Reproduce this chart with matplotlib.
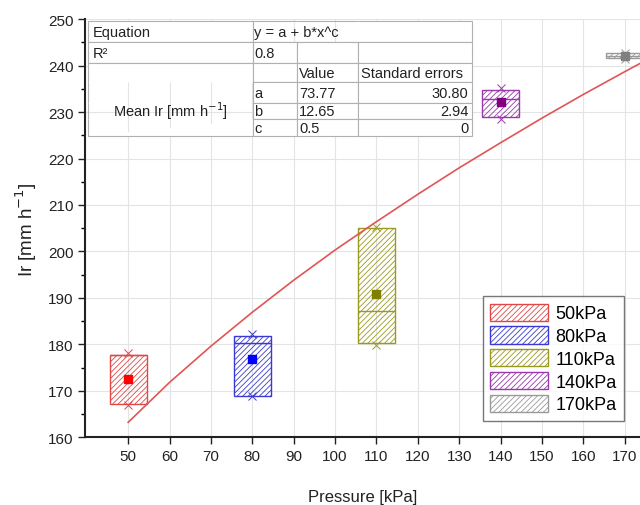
import matplotlib
matplotlib.use('Agg')
import matplotlib.pyplot as plt

plt.rcParams['font.family'] = ['Liberation Sans', 'DejaVu Sans']
plt.rcParams['hatch.linewidth'] = 0.6

# box statistics
pressures = [50, 80, 110, 140, 170]
labels = ['50kPa', '80kPa', '110kPa', '140kPa', '170kPa']
q1 = [167.1, 168.9, 180.2, 229.0, 241.6]
q3 = [177.7, 181.8, 205.1, 234.7, 242.7]
medians = [177.7, 180.2, 187.1, 232.8, 242.1]
means = [172.5, 176.9, 190.8, 232.1, 242.1]
mins = [166.9, 168.8, 179.9, 228.6, 241.5]
maxs = [178.1, 182.2, 205.3, 235.1, 242.8]

edge_colors = ['#e04848', '#3a3ad0', '#9a9a20', '#9a3aaa', '#9a9a9a']
mean_colors = ['#ff0000', '#0000ff', '#808000', '#800080', '#808080']

# fitted curve y = a + b*x^c
fit_x = [50, 60, 70, 80, 90, 100, 110, 120, 130, 140, 150, 160, 170, 175]
fit_y = [163.2, 171.8, 179.6, 186.9, 193.8, 200.3, 206.4, 212.3, 218.0,
         223.4, 228.7, 233.8, 238.7, 241.1]

fig = plt.figure(figsize=(6.4, 5.06), dpi=100)
ax = fig.add_axes([0.133, 0.134, 0.867, 0.826])

ax.grid(True, color='#e4e4e4', linewidth=0.8)
ax.set_axisbelow(True)

ax.plot(fit_x, fit_y, color='#e05555', linewidth=1.2, zorder=3)

for i in range(len(pressures)):
    x = pressures[i]
    c = edge_colors[i]
    ax.bar(x, q3[i] - q1[i], bottom=q1[i], width=9, fill=False, hatch='//////',
           edgecolor=c, linewidth=1.0, label=labels[i], zorder=2)
    ax.hlines(medians[i], x - 4.5, x + 4.5, color=c, linewidth=1.0, zorder=2)
    ax.plot([x, x], [mins[i], maxs[i]], linestyle='none', marker='x',
            markersize=6, color=c, markeredgewidth=0.7, zorder=4)
    ax.plot(x, means[i], marker='s', markersize=5.5, color=mean_colors[i],
            linestyle='none', zorder=5)

ax.set_xlim(39.6, 173.7)
ax.set_ylim(160, 250)
ax.set_xticks(range(50, 171, 10))
ax.set_yticks(range(160, 251, 10))
ax.set_yticks(range(165, 250, 10), minor=True)
ax.tick_params(axis='both', which='major', direction='out', length=5, width=1,
               labelsize=11, colors='#222222')
ax.tick_params(axis='y', which='minor', direction='out', length=3, width=1)

for s in ['top', 'right']:
    ax.spines[s].set_visible(False)
for s in ['left', 'bottom']:
    ax.spines[s].set_linewidth(1.5)
    ax.spines[s].set_color('#222222')

ax.set_xlabel('Pressure [kPa]', fontsize=12, labelpad=19, color='#222222')
ax.set_ylabel('Ir [mm h$^{-1}$]', fontsize=13.5, labelpad=6, color='#222222')

leg = ax.legend(loc='upper left', bbox_to_anchor=(0.717, 0.337), borderaxespad=0,
                fontsize=13, frameon=True, fancybox=False, edgecolor='#555555',
                handlelength=3.2, handleheight=1.1, labelspacing=0.22,
                handletextpad=0.4, borderpad=0.4)
leg.get_frame().set_linewidth(1.0)

# parameter table in the top-left corner
cells = [
    ['Equation', 'y = a + b*x^c', '', ''],
    ['R²', '0.8', '', ''],
    ['', '', 'Value', 'Standard errors'],
    ['', 'a', '73.77', '30.80'],
    ['', 'b', '12.65', '2.94'],
    ['', 'c', '0.5', '0'],
]
tab_left = (88 - 85) / 555
col_w = [(253 - 88) / 555, (297 - 253) / 555, (358 - 297) / 555, (472 - 358) / 555]
row_h = [21 / 418, 21 / 418, 19 / 418, 21 / 418, 16 / 418, 17 / 418]
tab = ax.table(cellText=cells, colWidths=col_w, cellLoc='left',
               bbox=[tab_left, 1 - sum(row_h) - 2 / 418, sum(col_w), sum(row_h)],
               zorder=6)
tab.auto_set_font_size(False)
for (r, c), cell in tab.get_celld().items():
    cell.set_height(row_h[r])
    cell.set_edgecolor('#b0b0b0')
    cell.set_linewidth(0.8)
    cell.set_facecolor('white')
    cell.get_text().set_fontsize(10.5)
    cell.get_text().set_color('#222222')
    cell.PAD = 0.03
    if c == 3 and r >= 3:
        cell.get_text().set_horizontalalignment('right')
    if r >= 2 and c == 0:
        cell.visible_edges = 'LR'
        if r == 2:
            cell.visible_edges = 'LRT'
        if r == 5:
            cell.visible_edges = 'LRB'
    if r == 0 and c >= 1:
        cell.visible_edges = 'TB' + ('L' if c == 1 else '') + ('R' if c == 3 else '')
# merged "Mean Ir" label spanning rows 2-5
ax.text(tab_left + col_w[0] / 2, 1 - (111 - 20) / 418,
        'Mean Ir [mm h$^{-1}$]', transform=ax.transAxes, ha='center', va='center',
        fontsize=10.5, color='#222222', zorder=7)

fig.savefig('out.png', dpi=100)
